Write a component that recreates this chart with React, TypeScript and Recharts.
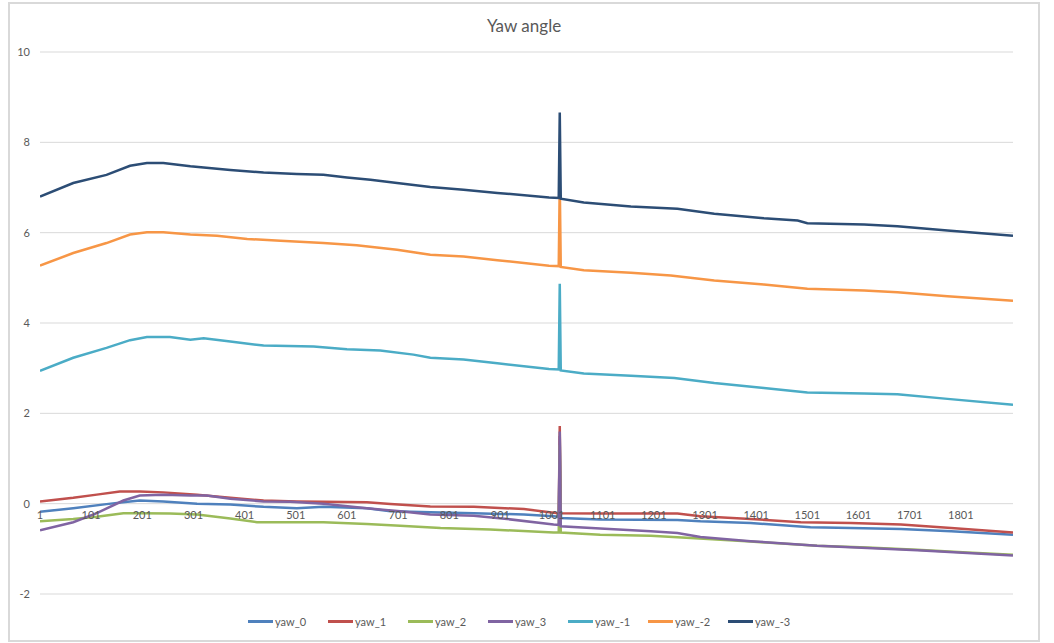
import { LineChart, Line, XAxis, YAxis, CartesianGrid, ReferenceDot } from 'recharts';

// [sample index, yaw angle]
const yaw0: [number, number][] = [
    [1, -0.18], [66, -0.10], [131, -0.01], [177, 0.05], [196, 0.07], [242, 0.05], [308, 0.0], [373, -0.02],
    [438, -0.07], [503, -0.10], [555, -0.07], [640, -0.10], [686, -0.17], [764, -0.19], [849, -0.21], [947, -0.24],
    [1005, -0.28], [1015, -0.29], [1017, 1.5], [1019, -0.32], [1096, -0.35], [1247, -0.36], [1292, -0.39],
    [1390, -0.43], [1507, -0.52], [1586, -0.54], [1684, -0.56], [1782, -0.61], [1903, -0.69],
];
const yaw1: [number, number][] = [
    [1, 0.05], [66, 0.13], [112, 0.20], [157, 0.27], [196, 0.27], [242, 0.25], [308, 0.20], [373, 0.13],
    [438, 0.07], [503, 0.05], [555, 0.04], [640, 0.03], [686, -0.01], [764, -0.06], [849, -0.07], [947, -0.12],
    [1005, -0.20], [1015, -0.21], [1017, 1.72], [1019, -0.21], [1096, -0.22], [1247, -0.22], [1292, -0.28],
    [1390, -0.34], [1488, -0.41], [1586, -0.43], [1684, -0.46], [1782, -0.54], [1903, -0.64],
];
const yaw2: [number, number][] = [
    [1, -0.39], [66, -0.34], [112, -0.29], [164, -0.21], [196, -0.21], [255, -0.22], [308, -0.24], [373, -0.33],
    [425, -0.41], [503, -0.41], [555, -0.41], [640, -0.45], [705, -0.49], [784, -0.54], [881, -0.57],
    [1005, -0.64], [1015, -0.64], [1017, 1.3], [1019, -0.64], [1096, -0.69], [1195, -0.71], [1273, -0.76],
    [1390, -0.84], [1520, -0.93], [1618, -0.97], [1716, -1.02], [1814, -1.08], [1903, -1.13],
];
const yaw3: [number, number][] = [
    [1, -0.59], [66, -0.41], [112, -0.21], [164, 0.07], [196, 0.18], [242, 0.20], [295, 0.18], [327, 0.18],
    [373, 0.11], [438, 0.05], [490, 0.04], [555, 0.0], [640, -0.10], [705, -0.17], [764, -0.24], [849, -0.27],
    [914, -0.34], [1005, -0.46], [1015, -0.47], [1017, 1.6], [1019, -0.50], [1096, -0.55], [1195, -0.61],
    [1247, -0.65], [1292, -0.74], [1390, -0.83], [1520, -0.93], [1618, -0.98], [1716, -1.03], [1814, -1.09],
    [1903, -1.15],
];
const yawM1: [number, number][] = [
    [1, 2.94], [66, 3.23], [131, 3.45], [177, 3.62], [210, 3.69], [255, 3.69], [295, 3.63], [321, 3.66],
    [373, 3.59], [438, 3.50], [536, 3.48], [601, 3.42], [666, 3.39], [731, 3.30], [764, 3.23], [829, 3.19],
    [895, 3.11], [996, 2.98], [1015, 2.97], [1017, 4.87], [1019, 2.95], [1064, 2.88], [1156, 2.83],
    [1241, 2.78], [1319, 2.67], [1416, 2.56], [1501, 2.46], [1612, 2.44], [1677, 2.42], [1775, 2.32], [1903, 2.19],
];
const yawM2: [number, number][] = [
    [1, 5.27], [66, 5.55], [131, 5.77], [177, 5.96], [210, 6.01], [242, 6.01], [295, 5.96], [347, 5.93],
    [406, 5.86], [471, 5.82], [555, 5.77], [620, 5.72], [699, 5.62], [764, 5.51], [829, 5.47], [895, 5.39],
    [996, 5.27], [1015, 5.26], [1017, 7.1], [1019, 5.24], [1064, 5.17], [1156, 5.11], [1234, 5.05],
    [1319, 4.94], [1416, 4.85], [1501, 4.76], [1612, 4.72], [1677, 4.68], [1775, 4.59], [1903, 4.49],
];
const yawM3: [number, number][] = [
    [1, 6.80], [66, 7.10], [131, 7.28], [177, 7.48], [210, 7.54], [242, 7.54], [295, 7.47], [373, 7.39],
    [438, 7.33], [503, 7.30], [555, 7.28], [601, 7.22], [647, 7.17], [699, 7.10], [764, 7.01], [829, 6.95],
    [895, 6.88], [996, 6.78], [1015, 6.77], [1017, 8.66], [1019, 6.75], [1064, 6.67], [1156, 6.58],
    [1247, 6.53], [1319, 6.42], [1416, 6.32], [1482, 6.27], [1501, 6.21], [1612, 6.18], [1677, 6.14],
    [1775, 6.05], [1903, 5.93],
];

const seriesNames = ['yaw_0', 'yaw_1', 'yaw_2', 'yaw_3', 'yaw_-1', 'yaw_-2', 'yaw_-3'];
const seriesData = [yaw0, yaw1, yaw2, yaw3, yawM1, yawM2, yawM3];
const COLORS = ['#4F81BD', '#C0504D', '#9BBB59', '#8064A2', '#4BACC6', '#F79646', '#2C4D75'];

const xTicks = [1, 101, 201, 301, 401, 501, 601, 701, 801, 901, 1001, 1101, 1201, 1301, 1401, 1501, 1601, 1701, 1801];
const yTicks = [-2, 0, 2, 4, 6, 8, 10];

const FONT = 'Lato, "Open Sans", sans-serif';
const TEXT = '#595959';

function Legend() {
    return (
        <div style={{ position: 'absolute', left: 238, top: 610, display: 'flex', fontFamily: FONT, fontSize: 11, color: TEXT }}>
            {seriesNames.map((name, i) => (
                <div key={name} style={{ width: 80, display: 'flex', alignItems: 'center', height: 14 }}>
                    <span style={{ display: 'inline-block', width: 25, height: 3, background: COLORS[i], marginRight: 2 }} />
                    <span>{name}</span>
                </div>
            ))}
        </div>
    );
}

export default function App() {
    return (
        <div style={{ position: 'absolute', left: 8, top: 2, width: 1028, height: 636, border: '2px solid #d9d9d9', background: '#fff' }}>
            <div style={{ position: 'absolute', top: 12, width: '100%', textAlign: 'center', fontFamily: FONT, fontSize: 17, color: TEXT, lineHeight: '20px' }}>
                Yaw angle
            </div>
            <LineChart width={1028} height={636} margin={{ top: 48, right: 25, left: 0, bottom: 46 }}>
                <CartesianGrid vertical={false} stroke="#d9d9d9" />
                <XAxis type="number" dataKey={0} domain={[1, 1903]} hide allowDataOverflow />
                <YAxis
                    type="number"
                    domain={[-2, 10]}
                    ticks={yTicks}
                    width={30}
                    axisLine={false}
                    tickLine={false}
                    tickMargin={4}
                    tick={{ fill: TEXT, fontSize: 11, fontFamily: FONT }}
                />
                {xTicks.map(t => (
                    <ReferenceDot
                        key={t}
                        x={t}
                        y={0}
                        r={1}
                        fill="none"
                        stroke="none"
                        label={{ value: String(t), position: 'bottom', offset: 7, fill: TEXT, fontSize: 11, fontFamily: FONT }}
                    />
                ))}
                {seriesData.map((d, i) => (
                    <Line
                        key={seriesNames[i]}
                        data={d}
                        dataKey={1}
                        name={seriesNames[i]}
                        stroke={COLORS[i]}
                        strokeWidth={2.5}
                        dot={false}
                        type="linear"
                        isAnimationActive={false}
                    />
                ))}
            </LineChart>
            <Legend />
        </div>
    );
}
